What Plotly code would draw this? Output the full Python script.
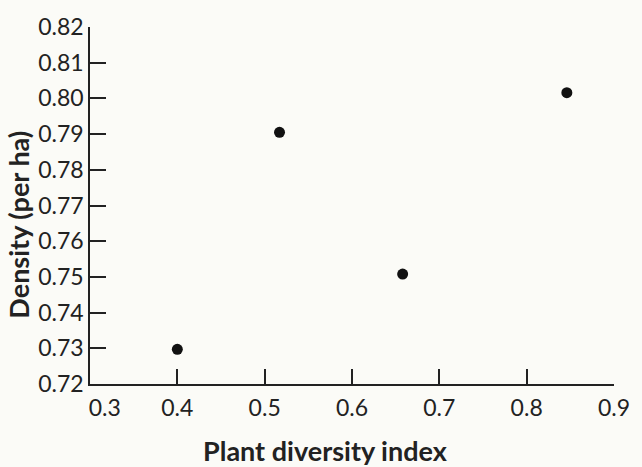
import plotly.graph_objects as go

# Data
diversity = [0.40, 0.517, 0.658, 0.846]
density = [0.7297, 0.7905, 0.7508, 0.8016]

x_ticks = [0.3, 0.4, 0.5, 0.6, 0.7, 0.8, 0.9]
x_tick_labels = ["\u00a0\u00a0\u00a0\u00a0\u00a00.3", "0.4", "0.5", "0.6", "0.7", "0.8", "0.9"]
y_ticks = [0.72, 0.73, 0.74, 0.75, 0.76, 0.77, 0.78, 0.79, 0.80, 0.81, 0.82]
y_tick_labels = ["0.72", "0.73", "0.74", "0.75", "0.76", "0.77", "0.78", "0.79", "0.80", "0.81", "0.82"]

BG = "#fbfbf7"
INK = "#222222"
FONT = "Lato"

fig = go.Figure(
    go.Scatter(
        x=diversity, y=density, mode="markers",
        marker=dict(size=11, color="#111111", line=dict(width=0)),
        showlegend=False, hoverinfo="x+y",
    )
)

fig.update_layout(
    width=642, height=467,
    margin=dict(l=90, r=16, t=19, b=83),
    paper_bgcolor=BG, plot_bgcolor=BG,
    font=dict(family=FONT, size=24, color=INK),
    xaxis=dict(
        range=[0.3, 0.9], tickmode="array", tickvals=x_ticks, ticktext=x_tick_labels,
        showgrid=False, zeroline=False, showline=True, linecolor=INK, linewidth=1.6,
        ticks="inside", ticklen=15, tickwidth=1.6, tickcolor=INK,
        tickfont=dict(family=FONT, size=23, color=INK),
        ticklabeloverflow="allow", ticklabelstandoff=3,
    ),
    yaxis=dict(
        range=[0.72, 0.82], tickmode="array", tickvals=y_ticks, ticktext=y_tick_labels,
        showgrid=False, zeroline=False, showline=True, linecolor=INK, linewidth=1.6,
        ticks="inside", ticklen=16, tickwidth=1.6, tickcolor=INK,
        tickfont=dict(family=FONT, size=23, color=INK),
    ),
    annotations=[
        dict(text="<b>Plant diversity index</b>", xref="paper", yref="paper",
             x=0.4496, y=-0.186, xanchor="center", yanchor="middle", showarrow=False,
             font=dict(family=FONT, size=27, color=INK)),
        dict(text="<b>Density (per ha)</b>", xref="paper", yref="paper",
             x=-0.137, y=0.447, xanchor="center", yanchor="middle", showarrow=False,
             textangle=-90, font=dict(family=FONT, size=27, color=INK)),
    ],
)

fig.write_html("out.html")
